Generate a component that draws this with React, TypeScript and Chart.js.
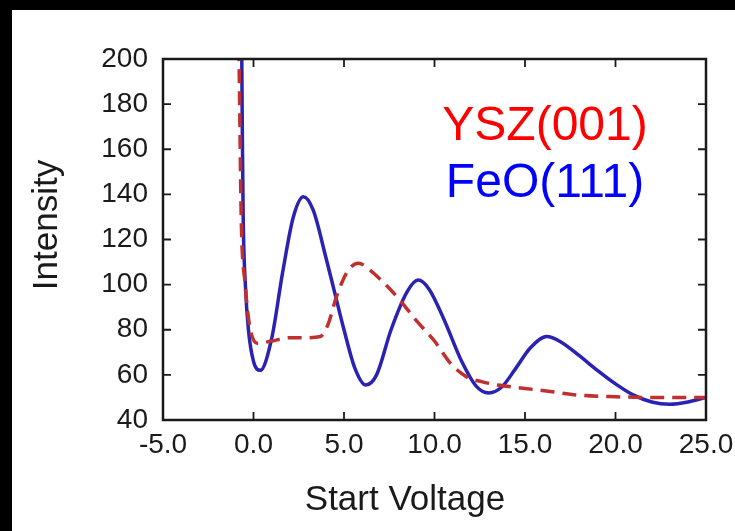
import React, { useEffect, useRef } from "react";
import { Chart, registerables } from "chart.js";

Chart.register(...registerables);

// ---- data ----
const xTickValues = [-5, 0, 5, 10, 15, 20, 25];
const yTickValues = [40, 60, 80, 100, 120, 140, 160, 180, 200];

const feoVoltage = [-0.66, -0.62, -0.57, -0.45, -0.28, 0.0, 0.37, 1.0, 1.6, 2.2, 2.76, 3.3, 4.0, 4.5, 5.0, 5.6, 6.2, 6.8, 7.6, 8.5, 9.1, 9.7, 10.5, 11.5, 12.3, 13.0, 13.7, 14.5, 15.3, 16.2, 17.0, 18.0, 19.0, 20.0, 21.0, 22.0, 23.0, 24.0, 25.0];
const feoIntensity = [215, 170, 130, 100, 80, 66, 62, 76, 105, 130, 139, 133, 112, 96, 80, 63, 55.5, 60, 80, 97, 102, 98, 85, 66, 55, 52, 54.5, 63, 72, 77, 74.5, 68.5, 62, 56, 51, 48, 47, 48, 50];

const yszVoltage = [-0.82, -0.75, -0.68, -0.46, -0.22, 0.2, 1.0, 2.0, 3.0, 3.7, 4.1, 4.6, 5.2, 5.8, 6.5, 7.3, 8.1, 9.0, 10.0, 10.9, 11.8, 12.6, 13.5, 15.0, 16.5, 18.0, 20.0, 22.0, 25.0];
const yszIntensity = [215, 170, 130, 100, 82, 74, 75, 76.5, 76.5, 77, 82, 95, 106, 109.5, 106, 100, 93, 84, 75, 65, 59, 57, 55.5, 54, 52.5, 51, 50.3, 50, 50];

const seriesLabels = ["YSZ(001)", "FeO(111)"];
const xTitle = "Start Voltage";
const yTitle = "Intensity";

const FONT = "'Liberation Sans', Arial, Helvetica, sans-serif";

const framePlugin = {
  id: "framePlugin",
  beforeDraw(chart: any) {
    const ctx = chart.ctx;
    ctx.save();
    ctx.fillStyle = "#000000";
    ctx.fillRect(0, 0, chart.width, chart.height);
    ctx.fillStyle = "#ffffff";
    ctx.fillRect(12, 10, chart.width - 12, chart.height - 10);
    ctx.restore();
  },
  afterDraw(chart: any) {
    const ctx = chart.ctx;
    const { left, right, top, bottom } = chart.chartArea;
    const xs = chart.scales.x;
    const ys = chart.scales.y;
    ctx.save();
    ctx.strokeStyle = "#1a1a1a";
    ctx.lineWidth = 2.5;
    ctx.strokeRect(left, top, right - left, bottom - top);
    ctx.lineWidth = 1.8;
    const tl = 8;
    ctx.beginPath();
    xTickValues.forEach((v) => {
      const px = xs.getPixelForValue(v);
      ctx.moveTo(px, bottom);
      ctx.lineTo(px, bottom - tl);
      ctx.moveTo(px, top);
      ctx.lineTo(px, top + tl);
    });
    yTickValues.forEach((v) => {
      const py = ys.getPixelForValue(v);
      ctx.moveTo(left, py);
      ctx.lineTo(left + tl, py);
      ctx.moveTo(right, py);
      ctx.lineTo(right - tl, py);
    });
    ctx.stroke();

    // axis titles
    ctx.fillStyle = "#1a1a1a";
    ctx.font = `35px ${FONT}`;
    ctx.textAlign = "center";
    ctx.textBaseline = "alphabetic";
    ctx.fillText(xTitle, 405, 510);
    ctx.save();
    ctx.translate(57, 225);
    ctx.rotate(-Math.PI / 2);
    ctx.fillText(yTitle, 0, 0);
    ctx.restore();

    // series labels
    ctx.font = `48px ${FONT}`;
    ctx.fillStyle = "#ff0000";
    ctx.fillText(seriesLabels[0], 545, 140);
    ctx.fillStyle = "#0000ff";
    ctx.fillText(seriesLabels[1], 545, 197);
    ctx.restore();
  },
};

export default function App() {
  const canvasRef = useRef<HTMLCanvasElement | null>(null);

  useEffect(() => {
    const canvas = canvasRef.current;
    if (!canvas) return;
    const chart = new Chart(canvas, {
      type: "scatter",
      data: {
        datasets: [
          {
            label: seriesLabels[0],
            data: yszVoltage.map((x, i) => ({ x, y: yszIntensity[i] })),
            showLine: true,
            borderColor: "#c0302e",
            borderWidth: 3.5,
            borderDash: [14, 8],
            pointRadius: 0,
            cubicInterpolationMode: "monotone",
            fill: false,
          },
          {
            label: seriesLabels[1],
            data: feoVoltage.map((x, i) => ({ x, y: feoIntensity[i] })),
            showLine: true,
            borderColor: "#2a22b2",
            borderWidth: 3.5,
            pointRadius: 0,
            cubicInterpolationMode: "monotone",
            fill: false,
          },
        ],
      },
      options: {
        responsive: false,
        animation: false,
        layout: { padding: { left: 0, top: 59, right: 29, bottom: 0 } },
        plugins: {
          legend: { display: false },
          tooltip: { enabled: false },
        },
        scales: {
          x: {
            type: "linear",
            min: -5,
            max: 25,
            afterBuildTicks: (s: any) => {
              s.ticks = xTickValues.map((v) => ({ value: v }));
            },
            afterFit: (s: any) => {
              s.height = 111;
              s.paddingLeft = 0;
              s.paddingRight = 0;
            },
            grid: { display: false, drawTicks: false },
            border: { display: false },
            ticks: {
              padding: 8,
              color: "#1a1a1a",
              font: { family: FONT, size: 28 },
              maxRotation: 0,
              callback: (v: any) => Number(v).toFixed(1),
            },
          },
          y: {
            type: "linear",
            min: 40,
            max: 200,
            afterBuildTicks: (s: any) => {
              s.ticks = yTickValues.map((v) => ({ value: v }));
            },
            afterFit: (s: any) => {
              s.width = 163;
              s.paddingTop = 0;
              s.paddingBottom = 0;
            },
            grid: { display: false, drawTicks: false },
            border: { display: false },
            ticks: {
              padding: 15,
              color: "#1a1a1a",
              font: { family: FONT, size: 28 },
              callback: (v: any) => String(v),
            },
          },
        },
      },
      plugins: [framePlugin],
    } as any);
    return () => chart.destroy();
  }, []);

  return (
    <div style={{ position: "fixed", left: 0, top: 0, width: 735, height: 531 }}>
      <canvas ref={canvasRef} width={735} height={531} style={{ display: "block" }} />
    </div>
  );
}
